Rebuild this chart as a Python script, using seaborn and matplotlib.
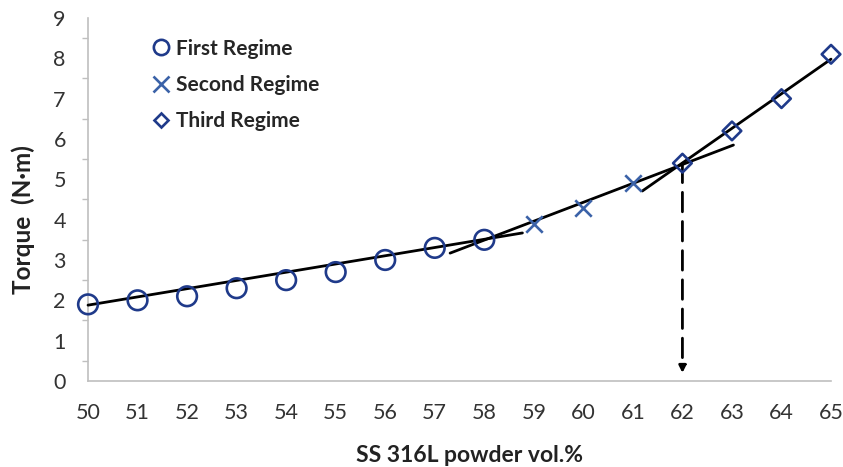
import numpy as np
import pandas as pd
import matplotlib
matplotlib.use("Agg")
import matplotlib.pyplot as plt
import seaborn as sns
from matplotlib.ticker import MultipleLocator
from matplotlib.lines import Line2D

# Data
first_x = [50, 51, 52, 53, 54, 55, 56, 57, 58]
first_y = [1.9, 2.0, 2.1, 2.3, 2.5, 2.7, 3.0, 3.3, 3.5]
second_x = [59, 60, 61]
second_y = [3.9, 4.3, 4.9]
third_x = [62, 63, 64, 65]
third_y = [5.4, 6.2, 7.0, 8.1]

# Trend line end points
trend1_x = [50.0, 58.77]
trend1_y = [1.88, 3.67]
trend2_x = [57.31, 63.03]
trend2_y = [3.17, 5.85]
trend3_x = [61.19, 65.0]
trend3_y = [4.71, 7.98]

# Critical loading marker
crit_x = 62
crit_top = 5.4
crit_bottom = 0.2

x_ticks = list(range(50, 66))
y_ticks = list(range(0, 10))

sns.set_theme(style="white")
plt.rcParams['font.family'] = ['Lato', 'DejaVu Sans']

fig = plt.figure(figsize=(8.43, 4.67), dpi=100)
ax = fig.add_axes([0.1044, 0.1842, 0.8814, 0.7773])

navy = "#1f3a8a"
blue = "#3b62a8"

for tx, ty in [(trend1_x, trend1_y), (trend2_x, trend2_y), (trend3_x, trend3_y)]:
    sns.lineplot(x=tx, y=ty, ax=ax, color="black", linewidth=2.0, zorder=3)

df1 = pd.DataFrame({"x": first_x, "y": first_y})
df2 = pd.DataFrame({"x": second_x, "y": second_y})
df3 = pd.DataFrame({"x": third_x, "y": third_y})

sns.scatterplot(data=df1, x="x", y="y", ax=ax, marker="o", s=200,
                facecolors="none", edgecolor=navy, linewidth=1.9, zorder=4)
ax.collections[-1].set_facecolor("none")
sns.scatterplot(data=df2, x="x", y="y", ax=ax, marker="x", s=140,
                color=blue, linewidth=1.9, zorder=4)
sns.scatterplot(data=df3, x="x", y="y", ax=ax, marker="D", s=90,
                facecolors="none", edgecolor=navy, linewidth=1.9, zorder=4)
ax.collections[-1].set_facecolor("none")

# dashed vertical line with arrow
ax.annotate("", xy=(crit_x, crit_bottom), xytext=(crit_x, crit_top),
            arrowprops=dict(arrowstyle="-|>", color="black", lw=2.0,
                            linestyle=(0, (7, 3.5)), mutation_scale=10,
                            shrinkA=0, shrinkB=0), zorder=2)

ax.set_xlim(50, 65)
ax.set_ylim(0, 9)
ax.set_xticks(x_ticks)
ax.set_yticks(y_ticks)
ax.yaxis.set_minor_locator(MultipleLocator(0.5))
ax.tick_params(axis="both", labelsize=15.5, colors="#333333")
ax.tick_params(axis="x", which="major", direction="out", length=6, width=1, color="#bfbfbf", pad=10)
ax.tick_params(axis="y", which="major", direction="inout", length=10, width=1, color="#bfbfbf", pad=11)
ax.tick_params(axis="y", which="minor", direction="out", length=4, width=1, color="#bfbfbf", left=True)
for s in ["top", "right"]:
    ax.spines[s].set_visible(False)
for s in ["left", "bottom"]:
    ax.spines[s].set_color("#bfbfbf")
    ax.spines[s].set_linewidth(1.2)
    ax.spines[s].set_zorder(0)
for c in ax.collections:
    c.set_clip_on(False)
for l in ax.lines:
    l.set_clip_on(False)

ax.set_xlabel("SS 316L powder vol.%", fontsize=16.5, fontweight="bold", color="#222222")
ax.xaxis.set_label_coords(0.514, -0.176)
ax.set_ylabel("Torque  (N·m)", fontsize=17.5, fontweight="bold", color="#222222")
ax.yaxis.set_label_coords(-0.071, 0.445)

handles = [
    Line2D([], [], marker="o", linestyle="none", markerfacecolor="none", markeredgecolor=navy, markersize=11, markeredgewidth=1.9),
    Line2D([], [], marker="x", linestyle="none", color=blue, markersize=11, markeredgewidth=1.9),
    Line2D([], [], marker="D", linestyle="none", markerfacecolor="none", markeredgecolor=navy, markersize=7.5, markeredgewidth=1.9),
]
labels = ["First Regime", "Second Regime", "Third Regime"]
ax.legend(handles, labels, loc="upper left", bbox_to_anchor=(0.062, 0.995), frameon=False,
          prop={"weight": "bold", "size": 15}, handlelength=0.8, handletextpad=0.3, labelspacing=0.78)

fig.savefig("out.png", dpi=100)
